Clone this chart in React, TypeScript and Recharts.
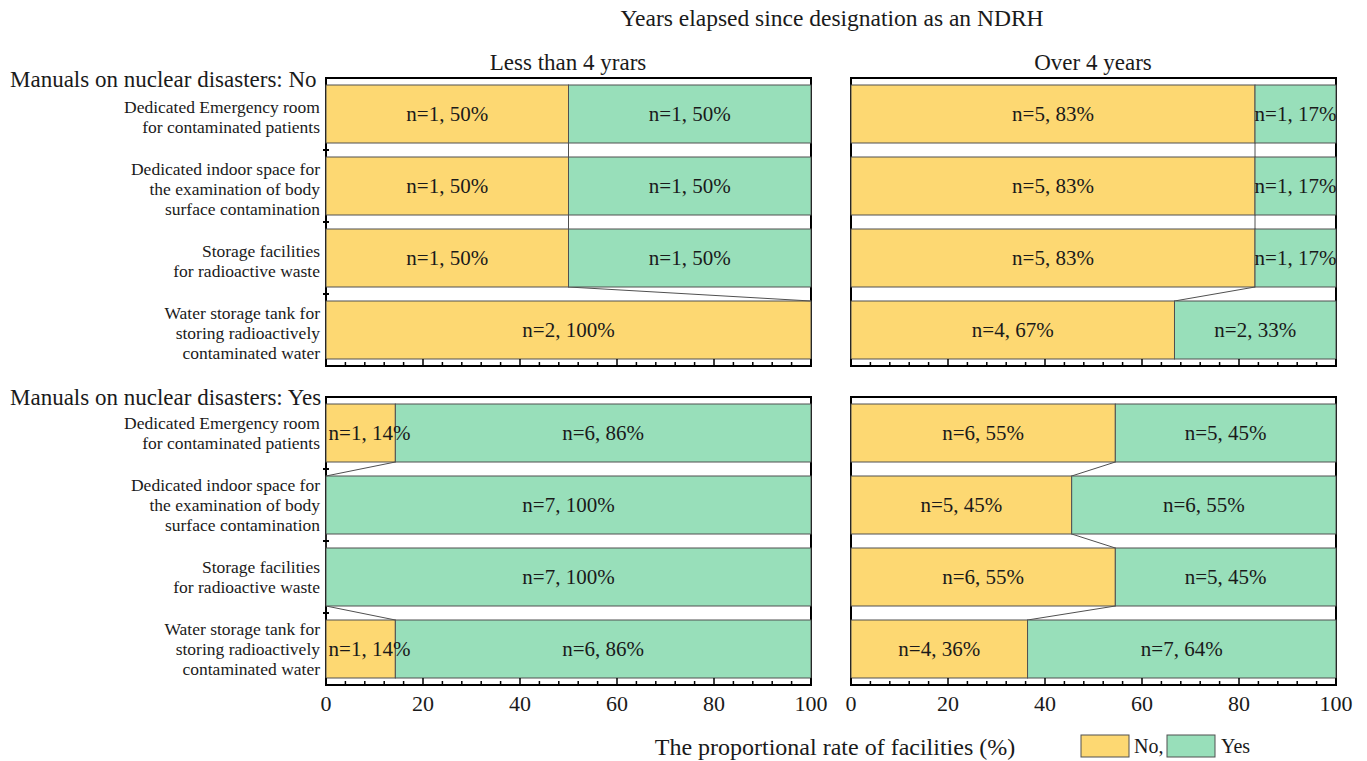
import React from 'react';
import { BarChart, Bar, XAxis, YAxis, ReferenceArea, LabelList } from 'recharts';

// ---------- data ----------
const categories = [
  'Dedicated Emergency room for contaminated patients',
  'Dedicated indoor space for the examination of body surface contamination',
  'Storage facilities for radioactive waste',
  'Water storage tank for storing radioactively contaminated water',
];
const categoryLines = [
  ['Dedicated Emergency room', 'for contaminated patients'],
  ['Dedicated indoor space for', 'the examination of body', 'surface contamination'],
  ['Storage facilities', 'for radioactive waste'],
  ['Water storage tank for', 'storing radioactively', 'contaminated water'],
];

const mainTitle = 'Years elapsed since designation as an NDRH';
const columnTitles = ['Less than 4 yrars', 'Over 4 years'];
const rowTitles = ['Manuals on nuclear disasters: No', 'Manuals on nuclear disasters: Yes'];
const axisTitle = 'The proportional rate of facilities (%)';
const legendNames = ['No,', 'Yes'];

const xTicks = [0, 4, 8, 12, 16, 20, 24, 28, 32, 36, 40, 44, 48, 52, 56, 60, 64, 68, 72, 76, 80, 84, 88, 92, 96, 100];

// Manuals: No, less than 4 years
const noManUnder4No = [50, 50, 50, 100];
const noManUnder4Yes = [50, 50, 50, 0];
const noManUnder4NoLabels = ['n=1, 50%', 'n=1, 50%', 'n=1, 50%', 'n=2, 100%'];
const noManUnder4YesLabels = ['n=1, 50%', 'n=1, 50%', 'n=1, 50%', ''];

// Manuals: No, over 4 years
const noManOver4No = [83.3, 83.3, 83.3, 66.7];
const noManOver4Yes = [16.7, 16.7, 16.7, 33.3];
const noManOver4NoLabels = ['n=5, 83%', 'n=5, 83%', 'n=5, 83%', 'n=4, 67%'];
const noManOver4YesLabels = ['n=1, 17%', 'n=1, 17%', 'n=1, 17%', 'n=2, 33%'];

// Manuals: Yes, less than 4 years
const yesManUnder4No = [14.3, 0, 0, 14.3];
const yesManUnder4Yes = [85.7, 100, 100, 85.7];
const yesManUnder4NoLabels = ['n=1, 14%', '', '', 'n=1, 14%'];
const yesManUnder4YesLabels = ['n=6, 86%', 'n=7, 100%', 'n=7, 100%', 'n=6, 86%'];

// Manuals: Yes, over 4 years
const yesManOver4No = [54.5, 45.5, 54.5, 36.4];
const yesManOver4Yes = [45.5, 54.5, 45.5, 63.6];
const yesManOver4NoLabels = ['n=6, 55%', 'n=5, 45%', 'n=6, 55%', 'n=4, 36%'];
const yesManOver4YesLabels = ['n=5, 45%', 'n=6, 55%', 'n=5, 45%', 'n=7, 64%'];

// ---------- style ----------
const FONT = '"Liberation Serif", "Times New Roman", serif';
const TEXT = '#1a1a1a';
const YELLOW = '#FDD872';
const GREEN = '#98DFBA';
const EDGE = '#505050';
const GAP = 7;
const LABEL_SIZE = 21;

type Row = { cat: string; no: number; yes: number; noLabel: string; yesLabel: string };

const makeShape = (key: 'no' | 'yes', rows: Row[], fill: string) => (props: any) => {
  const { x, y, width, height, index } = props;
  const r = rows[index];
  let connector: any = null;
  const owner = r.no > 0 ? 'no' : 'yes';
  if (index > 0 && owner === key) {
    const val = key === 'no' ? r.no : r.yes;
    const k = width / val;
    const left = key === 'no' ? x : x - r.no * k;
    const prev = rows[index - 1];
    connector = (
      <line x1={left + prev.no * k} y1={y - 2 * GAP} x2={left + r.no * k} y2={y} stroke={EDGE} strokeWidth={1} />
    );
  }
  return (
    <g>
      {width > 0 && <rect x={x} y={y} width={width} height={height} fill={fill} stroke={EDGE} strokeWidth={1} />}
      {connector}
    </g>
  );
};

// labels of the first (left-anchored) segment are kept inside the plot area
const makeLabel = (keepInside: boolean) => (props: any) => {
  const vb = props.viewBox && props.viewBox.width !== undefined ? props.viewBox : props;
  const { x, y, width, height } = vb;
  const value = props.value;
  if (!value) return null;
  const halfText = String(value).length * LABEL_SIZE * 0.235;
  let cx = x + width / 2;
  if (keepInside) cx = Math.max(cx, x + halfText + 4);
  return (
    <text x={cx} y={y + height / 2} textAnchor="middle" dominantBaseline="central" fontSize={LABEL_SIZE} fontFamily={FONT} fill={TEXT}>
      {value}
    </text>
  );
};

const renderXTick = (p: any, showLabel: boolean) => {
  const { x, y, payload } = p;
  const v = payload.value;
  const major = v % 20 === 0;
  return (
    <g>
      <line x1={x} x2={x} y1={y} y2={y - (major ? 7 : 4)} stroke="#000" strokeWidth={1.5} />
      {showLabel && major && (
        <text x={x} y={y + 26} textAnchor="middle" fontSize={22} fontFamily={FONT} fill={TEXT}>
          {v}
        </text>
      )}
    </g>
  );
};

const renderYTick = (p: any, showText: boolean, shift: number) => {
  const { x, y, payload } = p;
  const idx = categories.indexOf(payload.value);
  const axisX = x + 6;
  const off = payload.offset;
  const lines = categoryLines[idx] || [];
  const LH = 20;
  return (
    <g>
      {idx < categories.length - 1 && typeof off === 'number' && (
        <line x1={axisX - 3} x2={axisX + 3} y1={y + off} y2={y + off} stroke="#000" strokeWidth={2} />
      )}
      {showText && (
        <text x={x} y={y + shift} textAnchor="end" fontSize={17.5} fontFamily={FONT} fill={TEXT} dominantBaseline="central">
          {lines.map((l, i) => (
            <tspan key={i} x={x} dy={i === 0 ? -((lines.length - 1) / 2) * LH : LH}>
              {l}
            </tspan>
          ))}
        </text>
      )}
    </g>
  );
};

type PanelProps = {
  no: number[];
  yes: number[];
  noLabels: string[];
  yesLabels: string[];
  left: number;
  top: number;
  width: number;
  height: number;
  marginLeft: number;
  marginRight: number;
  yAxisWidth: number;
  xAxisHeight: number;
  showCats: boolean;
  showTickLabels: boolean;
  catShift: number;
};

function Panel(pp: PanelProps) {
  const rows: Row[] = categories.map((c, i) => ({
    cat: c,
    no: pp.no[i],
    yes: pp.yes[i],
    noLabel: pp.noLabels[i],
    yesLabel: pp.yesLabels[i],
  }));
  return (
    <div style={{ position: 'absolute', left: pp.left, top: pp.top }}>
      <BarChart
        width={pp.width}
        height={pp.height}
        data={rows}
        layout="vertical"
        margin={{ top: 18, right: pp.marginRight, bottom: 0, left: pp.marginLeft }}
        barCategoryGap={GAP}
      >
        <XAxis
          type="number"
          domain={[0, 100]}
          ticks={xTicks}
          interval={0}
          tickSize={0}
          tickMargin={0}
          axisLine={false}
          tickLine={false}
          height={pp.xAxisHeight}
          tick={(p: any) => renderXTick(p, pp.showTickLabels)}
        />
        <YAxis
          type="category"
          dataKey="cat"
          width={pp.yAxisWidth}
          interval={0}
          tickSize={0}
          tickMargin={6}
          axisLine={false}
          tickLine={false}
          tick={(p: any) => renderYTick(p, pp.showCats, pp.catShift)}
        />
        <Bar dataKey="no" stackId="s" fill={YELLOW} isAnimationActive={false} shape={makeShape('no', rows, YELLOW)}>
          <LabelList dataKey="noLabel" content={makeLabel(true)} />
        </Bar>
        <Bar dataKey="yes" stackId="s" fill={GREEN} isAnimationActive={false} shape={makeShape('yes', rows, GREEN)}>
          <LabelList dataKey="yesLabel" content={makeLabel(false)} />
        </Bar>
        <ReferenceArea x1={0} x2={100} fill="none" fillOpacity={0} stroke="#000" strokeWidth={2} ifOverflow="visible" />
      </BarChart>
    </div>
  );
}

export default function App() {
  const leftCfg = { left: 0, width: 840, marginLeft: 0, marginRight: 29, yAxisWidth: 326, showCats: true };
  const rightCfg = { left: 831, width: 536, marginLeft: 20, marginRight: 31, yAxisWidth: 0, showCats: false };
  const topCfg = { top: 60, height: 320, xAxisHeight: 14, showTickLabels: false, catShift: 3 };
  const botCfg = { top: 379, height: 340, xAxisHeight: 34, showTickLabels: true, catShift: 0 };
  return (
    <div style={{ position: 'absolute', left: 0, top: 0, width: 1367, height: 761, background: '#fff', fontFamily: FONT }}>
      <svg width={1367} height={761} style={{ position: 'absolute', left: 0, top: 0 }}>
        <text x={832} y={26} textAnchor="middle" fontSize={23.5} fontFamily={FONT} fill={TEXT}>{mainTitle}</text>
        <text x={568} y={70} textAnchor="middle" fontSize={23} fontFamily={FONT} fill={TEXT}>{columnTitles[0]}</text>
        <text x={1093} y={70} textAnchor="middle" fontSize={23} fontFamily={FONT} fill={TEXT}>{columnTitles[1]}</text>
        <text x={10} y={87} fontSize={23} fontFamily={FONT} fill={TEXT}>{rowTitles[0]}</text>
        <text x={10} y={405} fontSize={23} fontFamily={FONT} fill={TEXT}>{rowTitles[1]}</text>
        <text x={835} y={755} textAnchor="middle" fontSize={24} fontFamily={FONT} fill={TEXT}>{axisTitle}</text>
        <rect x={1081} y={735} width={48} height={22} fill={YELLOW} stroke={EDGE} strokeWidth={1} />
        <text x={1134} y={753} fontSize={20} fontFamily={FONT} fill={TEXT}>{legendNames[0]}</text>
        <rect x={1167} y={735} width={48} height={22} fill={GREEN} stroke={EDGE} strokeWidth={1} />
        <text x={1221} y={753} fontSize={20} fontFamily={FONT} fill={TEXT}>{legendNames[1]}</text>
      </svg>
      <Panel no={noManUnder4No} yes={noManUnder4Yes} noLabels={noManUnder4NoLabels} yesLabels={noManUnder4YesLabels} {...leftCfg} {...topCfg} />
      <Panel no={noManOver4No} yes={noManOver4Yes} noLabels={noManOver4NoLabels} yesLabels={noManOver4YesLabels} {...rightCfg} {...topCfg} />
      <Panel no={yesManUnder4No} yes={yesManUnder4Yes} noLabels={yesManUnder4NoLabels} yesLabels={yesManUnder4YesLabels} {...leftCfg} {...botCfg} />
      <Panel no={yesManOver4No} yes={yesManOver4Yes} noLabels={yesManOver4NoLabels} yesLabels={yesManOver4YesLabels} {...rightCfg} {...botCfg} />
    </div>
  );
}
